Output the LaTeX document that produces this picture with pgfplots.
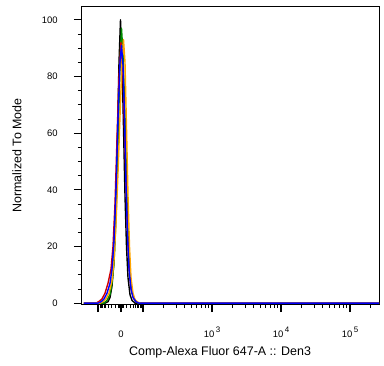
\documentclass[border=0pt]{standalone}
\usepackage{fontspec}
\setmainfont{Liberation Sans}
\usepackage{pgfplots}
\pgfplotsset{compat=1.18}
\definecolor{cgreen}{RGB}{0,140,0}
\definecolor{corange}{RGB}{255,165,0}
\definecolor{cred}{RGB}{210,0,0}
\definecolor{cblue}{RGB}{0,0,255}
\newcommand{\ps}[1]{\mbox{10\hspace{1.5bp}\raisebox{5bp}{\fontsize{8}{9}\selectfont #1}}}
\begin{document}
\begin{tikzpicture}
\begin{axis}[name=ax, at={(0,0)}, anchor=south west,
  scale only axis, width=297bp, height=297bp,
  xmin=82, xmax=379, ymin=-0.3, ymax=104.5,
  xtick={98,121,143,212,281,350},
  xticklabels={,0,,\ps{3},\ps{4},\ps{5}},
  minor xtick={100.0,101.1,102.4,104.0,105.9,108.2,111.3,115.5,118.5,119.5,120.2,121.8,122.5,123.5,126.3,130.3,133.2,135.5,137.3,138.8,140.0,141.1,163.8,175.9,184.5,191.2,196.7,201.3,205.3,208.8,232.8,244.9,253.5,260.2,265.7,270.3,274.3,277.8,301.8,313.9,322.5,329.2,334.7,339.3,343.3,346.8,370.8},
  ytick={0,20,40,60,80,100}, yticklabels={0,20,40,60,80,100},
  minor ytick={5,10,15,25,30,35,45,50,55,65,70,75,85,90,95},
  xtick pos=bottom, ytick pos=left, tick align=outside,
  major tick length=8bp, minor tick length=4bp,
  every tick/.style={black, line width=1.2bp},
  every minor tick/.append style={line width=0.8bp},
  axis line style={line width=1bp},
  ticklabel style={font=\fontsize{9.5}{11}\selectfont},
  xticklabel style={anchor=base, yshift=-25bp},
  yticklabel style={anchor=east, xshift=-12.8bp},
  label style={font=\fontsize{12.5}{14}\selectfont},
  xlabel={Comp-Alexa Fluor 647-A :: Den3},
  ylabel={Normalized To Mode},
  xlabel style={at={(axis description cs:0.465,-0.162)}, anchor=center},
  ylabel style={at={(axis description cs:-0.219,0.5)}, anchor=center},
  every axis plot/.append style={line width=1.4bp, line join=round},
]
% black
\addplot[black] coordinates {(84,0) (105,0) (108,0.5) (110,2) (112,6) (114,15) (116,35) (117.5,60) (119,85) (120.5,100) (122,86) (123.5,62) (125,38) (126.5,20) (128,9) (130,3) (132,1) (135,0) (379,0)};
% green
\addplot[cgreen] coordinates {(84,0) (104,0) (107,1) (110,3) (112,7) (114,14) (116,30) (118,55) (120,85) (121.5,97) (123,88) (125,66) (127,38) (128.5,20) (130,9) (132,3.5) (135,1) (138,0) (379,0)};
% red
\addplot[cred] coordinates {(84,0) (96,0) (99,0.6) (102,1.5) (105,3.5) (108,7) (111,12) (113,20) (115,35) (117,58) (119,80) (121,92) (123,80) (125,55) (127,30) (129,13) (131,5) (134,1.5) (137,0.3) (140,0) (379,0)};
% orange
\addplot[corange] coordinates {(84,0) (100,0) (103,0.5) (106,1.5) (109,3.5) (112,8) (114,15) (116,28) (118,46) (120,66) (122,85) (123.5,93) (125,85) (126.5,62) (128,38) (129.5,20) (131,9) (133,3.5) (135,1.2) (138,0.3) (141,0) (379,0)};
% blue
\addplot[cblue] coordinates {(84,0) (98,0) (101,0.5) (104,1.5) (107,3.5) (110,7) (112,12) (114,22) (116,40) (118,65) (120,85) (121.5,91) (123,84) (124.5,66) (126,42) (127.5,24) (129,12) (131,5) (133,2) (136,0.5) (139,0) (379,0)};
\end{axis}
\pgfresetboundingbox
\path[use as bounding box] ([xshift=-82bp,yshift=-62bp]ax.south west) rectangle ([xshift=5bp,yshift=7bp]ax.north east);
\end{tikzpicture}
\end{document}
